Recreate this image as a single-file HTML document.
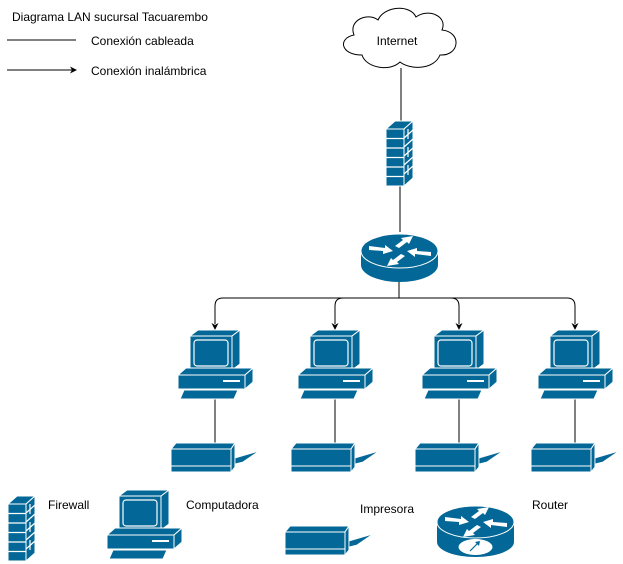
<!DOCTYPE html>
<html><head><meta charset="utf-8"><style>
html,body{margin:0;padding:0;background:#fff;}
svg{display:block;font-family:"Liberation Sans",Arial,sans-serif;}
</style></head><body>
<svg width="623" height="564" viewBox="0 0 623 564" xmlns="http://www.w3.org/2000/svg">
<defs>
<g id="pc">
  <polygon points="12,6 20,0 62,0 54,6" fill="#036897" stroke="#fff" stroke-width="1"/>
  <polygon points="54,6 62,0 62,34 54,40" fill="#036897" stroke="#fff" stroke-width="1"/>
  <rect x="12" y="6" width="42" height="34" fill="#036897" stroke="#fff" stroke-width="1"/>
  <rect x="16" y="10" width="34" height="26" rx="3" fill="#036897" stroke="#fff" stroke-width="1.2"/>
  <polygon points="0,45 8,38 75,38 67,45" fill="#036897" stroke="#fff" stroke-width="1"/>
  <polygon points="67,45 75,38 75,52 67,59" fill="#036897" stroke="#fff" stroke-width="1"/>
  <rect x="0" y="45" width="67" height="14" fill="#036897" stroke="#fff" stroke-width="1"/>
  <rect x="45" y="50" width="17" height="2" fill="#fff"/>
  <polygon points="6,60 60,60 56,69 2,69" fill="#036897" stroke="#fff" stroke-width="1"/>
</g>
<g id="pr">
  <polygon points="0,8 5,2 64,2 60,8" fill="#036897" stroke="#fff" stroke-width="1"/>
  <polygon points="60,8 64,2 64,26 60,31" fill="#036897" stroke="#fff" stroke-width="1"/>
  <rect x="0" y="8" width="60" height="23" fill="#036897" stroke="#fff" stroke-width="1"/>
  <line x1="0" y1="25" x2="60" y2="25" stroke="#fff" stroke-width="1"/>
  <polygon points="64,17 88,10 72,21 64,23" fill="#036897" stroke="#fff" stroke-width="0.8"/>
</g>
<g id="fw">
  <polygon points="0,8 9,0 27,0 18,8" fill="#036897" stroke="#fff" stroke-width="1"/>
  <polygon points="18,8 27,0 27,57 18,65" fill="#036897" stroke="#fff" stroke-width="1"/>
  <rect x="0" y="8" width="18" height="57" fill="#036897" stroke="#fff" stroke-width="1"/>
  <g stroke="#fff" stroke-width="1.2">
    <line x1="0" y1="17.5" x2="18" y2="17.5"/><line x1="0" y1="27" x2="18" y2="27"/>
    <line x1="0" y1="36.5" x2="18" y2="36.5"/><line x1="0" y1="46" x2="18" y2="46"/>
    <line x1="0" y1="55.5" x2="18" y2="55.5"/>
    <line x1="18" y1="17" x2="27" y2="9"/><line x1="18" y1="26" x2="27" y2="18"/>
    <line x1="18" y1="35" x2="27" y2="27"/><line x1="18" y1="44" x2="27" y2="36"/>
    <line x1="18" y1="53" x2="27" y2="45"/>
    <line x1="22" y1="8" x2="22" y2="18"/><line x1="22" y1="26" x2="22" y2="36"/>
    <line x1="22" y1="44" x2="22" y2="54"/>
  </g>
</g>
<g id="arr">
  <polygon points="8,14 24,16 24,13 32,19 22,22 22,19 8,18"/>
  <polygon points="34,14 42,8 40,6 52,4 48,12 46,10 38,16"/>
  <polygon points="70,24 54,22 54,25 46,19 56,16 56,19 70,20"/>
  <polygon points="44,24 36,30 38,32 26,34 30,26 32,28 40,22"/>
</g>
</defs>

<text x="12" y="21" font-size="12" fill="#000">Diagrama LAN sucursal Tacuarembo</text>
<line x1="7" y1="40" x2="76" y2="40" stroke="#000" stroke-width="1"/>
<text x="91" y="45" font-size="12">Conexión cableada</text>
<line x1="7" y1="70" x2="72" y2="70" stroke="#000" stroke-width="1"/>
<polygon points="77,70 70,66.5 72,70 70,73.5" fill="#000"/>
<text x="91" y="75" font-size="12">Conexión inalámbrica</text>

<path d="M362,55 C340,55 338,38 354,35 C348,20 368,12 378,20 C384,6 410,4 416,17 C428,8 448,16 442,30 C462,32 460,56 440,55 C434,70 410,70 400,62 C390,72 366,68 362,55 Z" fill="#fff" stroke="#000" stroke-width="1"/>
<text x="397" y="45" font-size="12" text-anchor="middle">Internet</text>

<g stroke="#000" stroke-width="1" fill="none">
  <line x1="401" y1="68" x2="401" y2="121"/>
  <line x1="400" y1="186" x2="400" y2="232"/>
  <line x1="399" y1="282" x2="399" y2="298"/>
  <path d="M215,324 V306 Q215,298 223,298 H567 Q575,298 575,306 V324"/>
  <path d="M335,324 V306 Q335,298 343,298"/>
  <path d="M459,324 V306 Q459,298 451,298"/>
  <line x1="215" y1="399" x2="215" y2="443"/>
  <line x1="335" y1="399" x2="335" y2="443"/>
  <line x1="459" y1="399" x2="459" y2="443"/>
  <line x1="575" y1="399" x2="575" y2="443"/>
</g>
<g fill="#000">
  <polygon points="215,330 211.5,323 215,325 218.5,323"/>
  <polygon points="335,330 331.5,323 335,325 338.5,323"/>
  <polygon points="459,330 455.5,323 459,325 462.5,323"/>
  <polygon points="575,330 571.5,323 575,325 578.5,323"/>
</g>

<use href="#fw" x="386" y="121"/>
<g transform="translate(361,232)">
  <rect x="0" y="19" width="77" height="14" fill="#036897"/>
  <ellipse cx="38.5" cy="33" rx="38.5" ry="17" fill="#036897"/>
  <ellipse cx="38.5" cy="19" rx="38.5" ry="17" fill="#036897" stroke="#fff" stroke-width="1"/>
  <use href="#arr" fill="#fff"/>
</g>

<use href="#pc" x="178" y="330"/>
<use href="#pc" x="298" y="330"/>
<use href="#pc" x="422" y="330"/>
<use href="#pc" x="538" y="330"/>
<use href="#pr" x="171" y="441"/>
<use href="#pr" x="291" y="441"/>
<use href="#pr" x="415" y="441"/>
<use href="#pr" x="531" y="441"/>

<use href="#fw" x="8" y="496"/>
<text x="48" y="509" font-size="12">Firewall</text>
<use href="#pc" x="107" y="490"/>
<text x="186" y="509" font-size="12">Computadora</text>
<use href="#pr" x="285" y="524"/>
<text x="360" y="513" font-size="12">Impresora</text>
<g transform="translate(437,505)">
  <rect x="0" y="17" width="77" height="20" fill="#036897"/>
  <ellipse cx="38.5" cy="37" rx="38.5" ry="15" fill="#036897"/>
  <ellipse cx="38.5" cy="17" rx="38.5" ry="16" fill="#036897" stroke="#fff" stroke-width="1"/>
  <use href="#arr" fill="#fff" transform="translate(0,-2)"/>
  <ellipse cx="38.5" cy="42" rx="17" ry="8" fill="#fff"/>
  <line x1="33" y1="46" x2="41" y2="38" stroke="#036897" stroke-width="1.2"/>
  <polygon points="43,36 38,37 42,41" fill="#036897"/>
</g>
<text x="532" y="509" font-size="12">Router</text>
</svg>
</body></html>
